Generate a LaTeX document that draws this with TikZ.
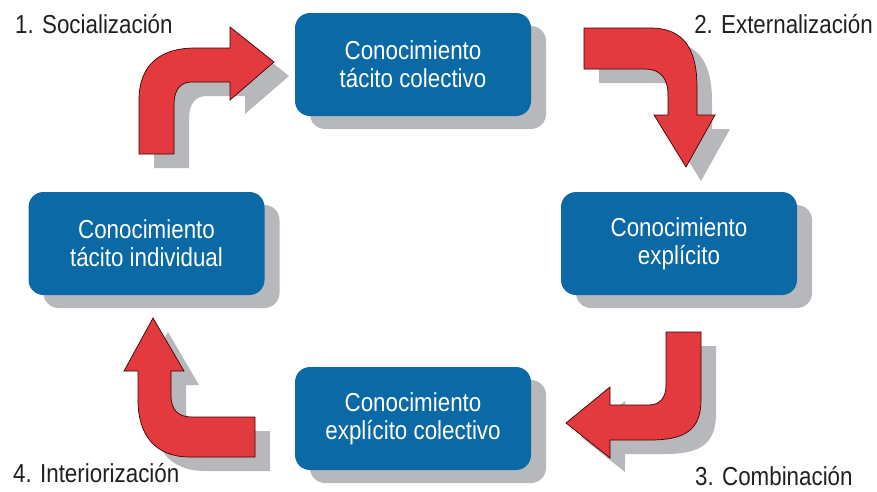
\documentclass[tikz,border=0pt]{standalone}
\usepackage{fontspec}
\setmainfont[FakeStretch=0.86]{Liberation Sans}
\usetikzlibrary{shadows}
\definecolor{boxblue}{RGB}{11,105,165}
\definecolor{shadowgray}{RGB}{183,184,188}
\definecolor{arrowred}{RGB}{226,58,62}
\definecolor{labelgray}{RGB}{35,31,32}
\begin{document}
\begin{tikzpicture}[x=1pt,y=-1pt,
  kbox/.style={rectangle, rounded corners=15pt, fill=boxblue, text=white,
    minimum width=236pt, minimum height=103pt, align=center,
    font=\fontsize{26}{28}\selectfont, inner sep=0pt,
    general shadow={fill=shadowgray, shadow xshift=15pt, shadow yshift=-13pt}},
  klabel/.style={text=labelgray, font=\fontsize{26}{28}\selectfont, inner sep=0pt},
  arrowshadow/.style={fill=shadowgray},
  bigarrow/.style={fill=arrowred, draw=black!75!red, line width=0.7pt, line join=miter}
]
\useasboundingbox (0,0) rectangle (877,491);

% arrow shadows
\fill[arrowshadow, shift={(15,14)}] (139,154) -- (139,100) .. controls (139,65) and (160,48) .. (195,48) -- (230,48) -- (230,27) -- (274,62) -- (230,100) -- (230,82) -- (192,82) .. controls (180,82) and (174,90) .. (174,105) -- (174,154) -- cycle;
\fill[arrowshadow, shift={(15,14)}] (584,28) -- (650,28) .. controls (685,28) and (697,50) .. (697,88) -- (697,115) -- (715,115) -- (686,167) -- (654,115) -- (668,115) -- (668,95) .. controls (668,78) and (660,69) .. (645,69) -- (584,69) -- cycle;
\fill[arrowshadow, shift={(15,14)}] (666,332) -- (701,332) -- (701,400) .. controls (701,430) and (685,440) .. (650,440) -- (610,440) -- (610,458) -- (566,423) -- (610,387) -- (610,405) -- (648,405) .. controls (660,405) and (666,398) .. (666,385) -- cycle;
\fill[arrowshadow, shift={(15,14)}] (255,457) -- (190,457) .. controls (155,457) and (138,435) .. (138,400) -- (138,371) -- (124,371) -- (153,318) -- (184,371) -- (171,371) -- (171,395) .. controls (171,410) and (178,417) .. (192,417) -- (255,417) -- cycle;

% arrows
\draw[bigarrow] (139,154) -- (139,100) .. controls (139,65) and (160,48) .. (195,48) -- (230,48) -- (230,27) -- (274,62) -- (230,100) -- (230,82) -- (192,82) .. controls (180,82) and (174,90) .. (174,105) -- (174,154) -- cycle;
\draw[bigarrow] (584,28) -- (650,28) .. controls (685,28) and (697,50) .. (697,88) -- (697,115) -- (715,115) -- (686,167) -- (654,115) -- (668,115) -- (668,95) .. controls (668,78) and (660,69) .. (645,69) -- (584,69) -- cycle;
\draw[bigarrow] (666,332) -- (701,332) -- (701,400) .. controls (701,430) and (685,440) .. (650,440) -- (610,440) -- (610,458) -- (566,423) -- (610,387) -- (610,405) -- (648,405) .. controls (660,405) and (666,398) .. (666,385) -- cycle;
\draw[bigarrow] (255,457) -- (190,457) .. controls (155,457) and (138,435) .. (138,400) -- (138,371) -- (124,371) -- (153,318) -- (184,371) -- (171,371) -- (171,395) .. controls (171,410) and (178,417) .. (192,417) -- (255,417) -- cycle;

% boxes
\node[kbox] (tc) at (413,64.5) {Conocimiento\\tácito colectivo};
\node[kbox] (ex) at (679,243.5) {Conocimiento\\explícito};
\node[kbox] (ec) at (413,418.5) {Conocimiento\\explícito colectivo};
\node[kbox] (ti) at (146.5,243.5) {Conocimiento\\tácito individual};

% labels
\node[klabel, anchor=base west] (l1) at (15,33) {1. Socialización};
\node[klabel, anchor=base east] (l2) at (873,33) {2. Externalización};
\node[klabel, anchor=base west] (l3) at (695,485) {3. Combinación};
\node[klabel, anchor=base west] (l4) at (13,482) {4. Interiorización};
\end{tikzpicture}
\end{document}
